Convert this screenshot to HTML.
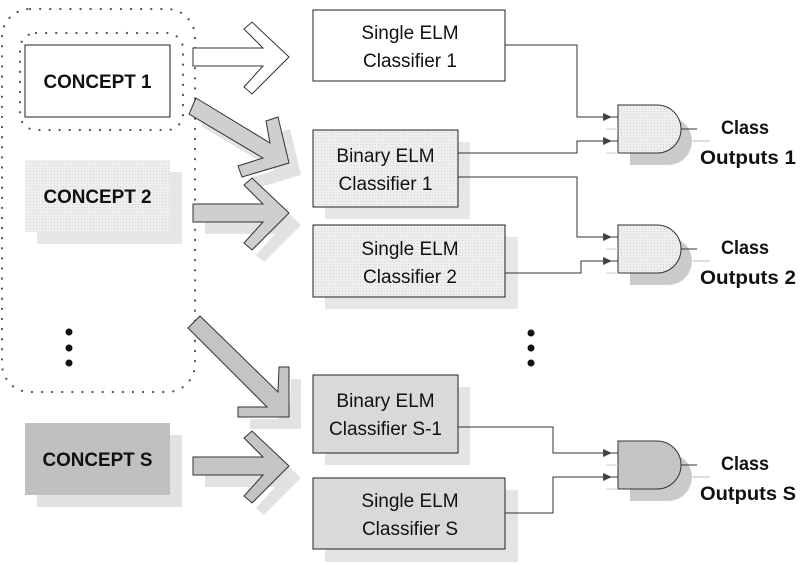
<!DOCTYPE html>
<html><head><meta charset="utf-8"><style>
html,body{margin:0;padding:0;background:#fff}
svg{display:block}
text{font-family:"Liberation Sans",sans-serif;fill:#111}
.b{font-weight:bold;font-size:19px}
.r{font-size:19px}
</style></head><body>
<svg width="808" height="565" viewBox="0 0 808 565" xmlns="http://www.w3.org/2000/svg">
<defs>
<pattern id="dots" width="3" height="3" patternUnits="userSpaceOnUse"><rect width="3" height="3" fill="#eeeeee"/><rect width="1" height="1" fill="#d4d4d4"/></pattern>
</defs>

<!-- dotted group outlines -->
<rect x="2" y="9" width="193" height="383" rx="28" fill="none" stroke="#555" stroke-width="2.2" stroke-dasharray="0.1 10" stroke-linecap="round"/>
<rect x="20" y="33" width="163" height="97" rx="16" fill="none" stroke="#555" stroke-width="2.2" stroke-dasharray="0.1 10" stroke-linecap="round"/>

<!-- concepts -->
<rect x="25" y="45" width="145" height="72" fill="#fff" stroke="#222" stroke-width="1"/>
<text class="b" x="97.5" y="88" text-anchor="middle" textLength="108" lengthAdjust="spacingAndGlyphs">CONCEPT 1</text>

<rect x="37" y="172" width="145" height="72" fill="#e6e6e6"/>
<rect x="25" y="160" width="145" height="72" fill="url(#dots)"/>
<text class="b" x="97.5" y="203" text-anchor="middle" textLength="108" lengthAdjust="spacingAndGlyphs">CONCEPT 2</text>

<circle cx="69" cy="332" r="3.5" fill="#111"/><circle cx="69" cy="348" r="3.5" fill="#111"/><circle cx="69" cy="363" r="3.5" fill="#111"/>

<rect x="37" y="435" width="145" height="72" fill="#e2e2e2"/>
<rect x="25" y="423" width="145" height="72" fill="#c0c0c0"/>
<text class="b" x="97.5" y="466" text-anchor="middle" textLength="110" lengthAdjust="spacingAndGlyphs">CONCEPT S</text>

<!-- arrows -->
<polygon points="193,48 263,48 244,29 252,22 289,57 252,94 244,87 263,66 193,66" fill="#fff" stroke="#333" stroke-width="1"/>

<g transform="translate(12,12)" fill="#e2e2e2"><polygon points="196,98 270,143 266,121 278,117 289,163 242,177 238,166 263,158 189,114"/></g>
<polygon points="196,98 270,143 266,121 278,117 289,163 242,177 238,166 263,158 189,114" fill="#cfcfcf" stroke="#333" stroke-width="1"/>

<g transform="translate(12,12)" fill="#e2e2e2"><polygon points="193,204 263,204 244,185 252,178 289,213 252,250 244,243 263,222 193,222"/></g>
<polygon points="193,204 263,204 244,185 252,178 289,213 252,250 244,243 263,222 193,222" fill="#cfcfcf" stroke="#333" stroke-width="1"/>

<g transform="translate(12,12)" fill="#e2e2e2"><polygon points="200,316 278,392 279,367 289,367 289,417 238,417 238,407 267,407 188,328"/></g>
<polygon points="200,316 278,392 279,367 289,367 289,417 238,417 238,407 267,407 188,328" fill="#c4c4c4" stroke="#333" stroke-width="1"/>

<g transform="translate(12,12)" fill="#e2e2e2"><polygon points="193,457 263,457 244,438 252,431 289,466 252,503 244,496 263,475 193,475"/></g>
<polygon points="193,457 263,457 244,438 252,431 289,466 252,503 244,496 263,475 193,475" fill="#c4c4c4" stroke="#333" stroke-width="1"/>

<!-- classifiers -->
<rect x="313" y="10" width="192" height="71" fill="#fff" stroke="#222"/>
<text class="r" x="410" y="39" text-anchor="middle">Single ELM</text>
<text class="r" x="410" y="67" text-anchor="middle">Classifier 1</text>

<rect x="325" y="142" width="145" height="77" fill="#e6e6e6"/>
<rect x="313" y="130" width="145" height="77" fill="url(#dots)" stroke="#222"/>
<text class="r" x="385.5" y="162" text-anchor="middle">Binary ELM</text>
<text class="r" x="385.5" y="190" text-anchor="middle">Classifier 1</text>

<rect x="325" y="237" width="193" height="72" fill="#e6e6e6"/>
<rect x="313" y="225" width="192" height="72" fill="url(#dots)" stroke="#222"/>
<text class="r" x="410" y="255" text-anchor="middle">Single ELM</text>
<text class="r" x="410" y="283" text-anchor="middle">Classifier 2</text>

<circle cx="531" cy="333" r="3.5" fill="#111"/><circle cx="531" cy="348" r="3.5" fill="#111"/><circle cx="531" cy="363" r="3.5" fill="#111"/>

<rect x="325" y="387" width="145" height="78" fill="#e4e4e4"/>
<rect x="313" y="375" width="145" height="78" fill="#d9d9d9" stroke="#222"/>
<text class="r" x="385.5" y="407" text-anchor="middle">Binary ELM</text>
<text class="r" x="385.5" y="435" text-anchor="middle">Classifier S-1</text>

<rect x="325" y="490" width="193" height="72" fill="#e4e4e4"/>
<rect x="313" y="478" width="192" height="71" fill="#d9d9d9" stroke="#222"/>
<text class="r" x="410" y="507" text-anchor="middle">Single ELM</text>
<text class="r" x="410" y="535" text-anchor="middle">Classifier S</text>

<!-- connectors -->
<g fill="none" stroke="#333" stroke-width="1">
<path d="M505,45 H577 V117 H618"/>
<path d="M458,153 H577 V141 H618"/>
<path d="M458,177 H577 V237 H618"/>
<path d="M505,273 H581 V261 H618"/>
<path d="M458,427 H553 V453 H618"/>
<path d="M505,513 H553 V477 H618"/>
</g>
<g fill="#444">
<polygon points="603,113 612,117 603,121"/><polygon points="603,137 612,141 603,145"/>
<polygon points="603,233 612,237 603,241"/><polygon points="603,257 612,261 603,265"/>
<polygon points="603,449 612,453 603,457"/><polygon points="603,473 612,477 603,481"/>
</g>

<!-- gates -->
<g>
<path d="M630,117 H668 A24,24 0 0 1 668,165 H630 Z" fill="#cacaca"/>
<path d="M618,105 H657 A24,24 0 0 1 657,153 H618 Z" fill="url(#dots)" stroke="#333"/>
<line x1="681" y1="129" x2="697" y2="129" stroke="#333"/><line x1="693" y1="141" x2="710" y2="141" stroke="#bbb"/>
<line x1="606" y1="129" x2="618" y2="129" stroke="#ccc"/><line x1="606" y1="153" x2="618" y2="153" stroke="#ccc"/>

<path d="M630,237 H668 A24,24 0 0 1 668,285 H630 Z" fill="#cacaca"/>
<path d="M618,225 H657 A24,24 0 0 1 657,273 H618 Z" fill="url(#dots)" stroke="#333"/>
<line x1="681" y1="249" x2="697" y2="249" stroke="#333"/><line x1="693" y1="261" x2="710" y2="261" stroke="#bbb"/>
<line x1="606" y1="249" x2="618" y2="249" stroke="#ccc"/><line x1="606" y1="273" x2="618" y2="273" stroke="#ccc"/>

<path d="M630,453 H668 A24,24 0 0 1 668,501 H630 Z" fill="#cacaca"/>
<path d="M618,441 H657 A24,24 0 0 1 657,489 H618 Z" fill="#c4c4c4" stroke="#333"/>
<line x1="681" y1="465" x2="697" y2="465" stroke="#333"/><line x1="693" y1="477" x2="710" y2="477" stroke="#bbb"/>
<line x1="606" y1="465" x2="618" y2="465" stroke="#ccc"/><line x1="606" y1="489" x2="618" y2="489" stroke="#ccc"/>
</g>

<!-- outputs -->
<text class="b" x="745" y="134" text-anchor="middle" font-size="20" textLength="48" lengthAdjust="spacingAndGlyphs">Class</text>
<text class="b" x="748" y="164" text-anchor="middle" font-size="20" textLength="96" lengthAdjust="spacingAndGlyphs">Outputs 1</text>
<text class="b" x="745" y="254" text-anchor="middle" font-size="20" textLength="48" lengthAdjust="spacingAndGlyphs">Class</text>
<text class="b" x="748" y="284" text-anchor="middle" font-size="20" textLength="96" lengthAdjust="spacingAndGlyphs">Outputs 2</text>
<text class="b" x="745" y="470" text-anchor="middle" font-size="20" textLength="48" lengthAdjust="spacingAndGlyphs">Class</text>
<text class="b" x="748" y="500" text-anchor="middle" font-size="20" textLength="96" lengthAdjust="spacingAndGlyphs">Outputs S</text>
</svg>
</body></html>
